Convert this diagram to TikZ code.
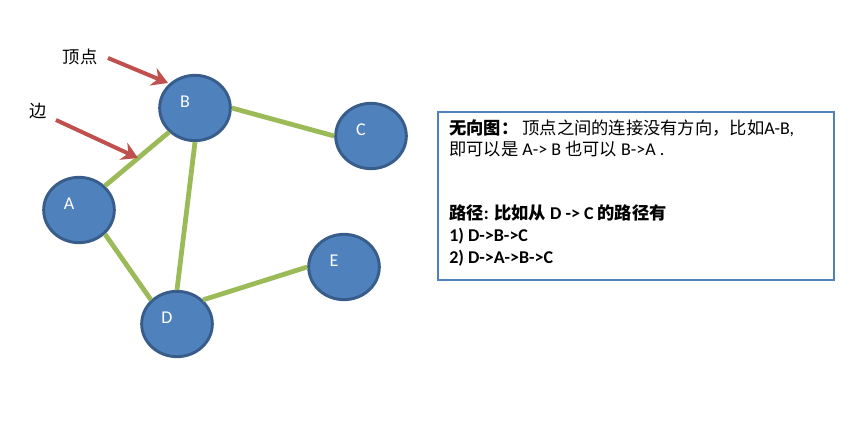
\documentclass[tikz,border=0pt]{standalone}
\usepackage{fontspec}
\setmainfont{Carlito}
\newfontfamily\cjk{Noto Sans CJK SC}[Scale=0.96]
\usepackage{xcolor}
\definecolor{gvFill}{RGB}{79,129,189}
\definecolor{gvDraw}{RGB}{56,93,138}
\definecolor{gvEdge}{RGB}{155,187,89}
\definecolor{gvPoint}{RGB}{192,80,77}
\usetikzlibrary{arrows.meta,shapes.geometric}

\begin{document}
\begin{tikzpicture}[
    x=0.75pt, y=-0.75pt,
    vertex/.style={ellipse, draw=gvDraw, fill=gvFill, line width=2.2pt,
      minimum width=53pt, minimum height=49pt, inner sep=0pt},
    vname/.style={text=white, font=\fontsize{13.5}{15}\selectfont,
      xshift=-7.5pt, yshift=4.5pt},
    edge/.style={draw=gvEdge, line width=3.6pt},
    pointer/.style={draw=gvPoint, line width=3pt,
      -{Stealth[length=12pt, width=14pt, inset=4pt]}},
    hint/.style={font=\fontsize{13.5}{15}\selectfont\cjk, inner sep=1pt},
    descbox/.style={draw=gvFill, line width=0.9pt, minimum width=297pt,
      minimum height=126pt, inner sep=0pt},
    descline/.style={anchor=base west, inner sep=0pt,
      font=\fontsize{13.5}{15}\selectfont}
  ]
    \useasboundingbox (0,0) rectangle (867,438);

    % vertices
    \node[vertex, label={[vname]center:A}] (A) at (79,210) {};
    \node[vertex, label={[vname]center:B}] (B) at (195,108) {};
    \node[vertex, label={[vname]center:C}] (C) at (371,136) {};
    \node[vertex, label={[vname]center:D}] (D) at (177,324) {};
    \node[vertex, label={[vname]center:E}] (E) at (344,267) {};

    % edges
    \draw[edge] (A.north east) -- (B.south west);
    \draw[edge] (B.east) -- (C.west);
    \draw[edge] (B.south) -- (D.north);
    \draw[edge] (A.south east) -- (D.north west);
    \draw[edge] (D.north east) -- (E.west);

    % pointers
    \node[hint] (vtxnote) at (80,57) {顶点};
    \node[hint] (edgenote) at (38,111) {边};
    \coordinate (vtxtail) at (108,58);
    \coordinate (vtxtip) at (168,83);
    \coordinate (edgetail) at (56,120);
    \coordinate (edgetip) at (138,158);
    \draw[pointer] (vtxtail) -- (vtxtip);
    \draw[pointer] (edgetail) -- (edgetip);

    % description
    \node[descbox] (desc) at (636,196) {};
    \node[descline] (undirected) at (449,135)
      {{\cjk\bfseries 无向图：} {\cjk 顶点之间的连接没有方向，比如}A-B,};
    \node[descline] (bothways) at (449,156)
      {{\cjk 即可以是} A-> B {\cjk 也可以} B->A .};
    \node[descline, font=\fontsize{13.5}{15}\selectfont\bfseries] (pathtitle) at (449,220)
      {{\cjk 路径}: {\cjk 比如从} D -> C {\cjk 的路径有}};
    \node[descline, font=\fontsize{13.5}{15}\selectfont\bfseries] (pathone) at (449,242)
      {1) D->B->C};
    \node[descline, font=\fontsize{13.5}{15}\selectfont\bfseries] (pathtwo) at (449,263)
      {2) D->A->B->C};
  \end{tikzpicture}
\end{document}
